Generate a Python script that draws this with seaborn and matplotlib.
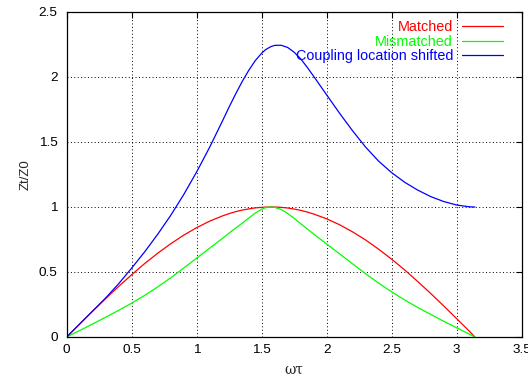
import seaborn as sns
import matplotlib.pyplot as plt
import pandas as pd

# values
omega_tau = [0.0, 0.1, 0.2, 0.3, 0.4, 0.5, 0.6, 0.7, 0.8, 0.9, 1.0, 1.1, 1.2,
             1.25, 1.3, 1.35, 1.4, 1.45, 1.5, 1.53, 1.57, 1.6, 1.65, 1.7, 1.75,
             1.8, 1.85, 1.9, 2.0, 2.1, 2.2, 2.3, 2.4, 2.5, 2.6, 2.7, 2.8, 2.9,
             3.0, 3.1, 3.14]
matched = [0.0, 0.100, 0.199, 0.296, 0.389, 0.479, 0.565, 0.644, 0.717, 0.783,
           0.841, 0.891, 0.932, 0.949, 0.964, 0.976, 0.985, 0.993, 0.997, 0.999,
           1.0, 1.0, 0.997, 0.992, 0.984, 0.974, 0.961, 0.946, 0.909, 0.863,
           0.808, 0.746, 0.675, 0.598, 0.516, 0.427, 0.335, 0.239, 0.141, 0.042,
           0.0]
mismatched = [0.0, 0.05, 0.10, 0.152, 0.205, 0.26, 0.32, 0.385, 0.455, 0.53,
              0.607, 0.683, 0.76, 0.80, 0.838, 0.875, 0.914, 0.953, 0.983, 0.995,
              1.0, 0.997, 0.981, 0.95, 0.913, 0.871, 0.832, 0.792, 0.715, 0.639,
              0.562, 0.486, 0.414, 0.347, 0.285, 0.227, 0.174, 0.121, 0.071,
              0.021, 0.0]
shifted = [0.0, 0.10, 0.20, 0.30, 0.41, 0.53, 0.655, 0.79, 0.935, 1.095, 1.27,
           1.46, 1.665, 1.77, 1.87, 1.965, 2.05, 2.125, 2.183, 2.21, 2.233, 2.243,
           2.244, 2.227, 2.19, 2.14, 2.075, 2.005, 1.862, 1.72, 1.585, 1.46,
           1.352, 1.264, 1.19, 1.13, 1.08, 1.042, 1.015, 1.001, 1.0]

series_names = ["Matched", "Mismatched", "Coupling location shifted"]
series_colors = ["#ff0000", "#00ff00", "#0000ff"]

df = pd.DataFrame({"omega_tau": omega_tau, "Matched": matched,
                   "Mismatched": mismatched, "Coupling location shifted": shifted})

sns.set_style("white")
plt.rcParams['font.family'] = ['Liberation Sans', 'DejaVu Sans']

fig = plt.figure(figsize=(5.28, 3.8), dpi=100)
ax = fig.add_axes([0.1263, 0.1132, 0.8617, 0.8553])

for name, color in zip(series_names, series_colors):
    sns.lineplot(data=df, x="omega_tau", y=name, color=color, lw=0.9,
                 label=name, sort=False, ax=ax)

ax.set_xlim(0, 3.5)
ax.set_ylim(0, 2.5)
ax.set_xticks([0, 0.5, 1, 1.5, 2, 2.5, 3, 3.5])
ax.set_xticklabels(["0", "0.5", "1", "1.5", "2", "2.5", "3", "3.5"])
ax.set_yticks([0, 0.5, 1, 1.5, 2, 2.5])
ax.set_yticklabels(["0", "0.5", "1", "1.5", "2", "2.5"])
ax.grid(True, color="black", linestyle=(0, (1, 2.5)), linewidth=0.7)
ax.tick_params(direction="in", top=True, right=True, length=4.5, width=0.8,
               labelsize=9.7, colors="black")
ax.tick_params(axis="x", pad=5)
ax.tick_params(axis="y", pad=6.5)
for s in ax.spines.values():
    s.set_color("black")
    s.set_linewidth(0.9)

ax.set_xlabel("ωτ", fontsize=10, family=["DejaVu Serif"])
ax.set_ylabel("Zt/Z0", fontsize=9.5)
ax.xaxis.set_label_coords(0.5, -0.078)
ax.yaxis.set_label_coords(-0.078, 0.5)

ax.legend(loc="upper right", bbox_to_anchor=(0.959, 0.974), frameon=False,
          markerfirst=False, labelcolor="linecolor", handlelength=2.85,
          handletextpad=0.62, labelspacing=0.02, borderaxespad=0, borderpad=0,
          fontsize=10.4)

fig.savefig("out.png", dpi=100)
